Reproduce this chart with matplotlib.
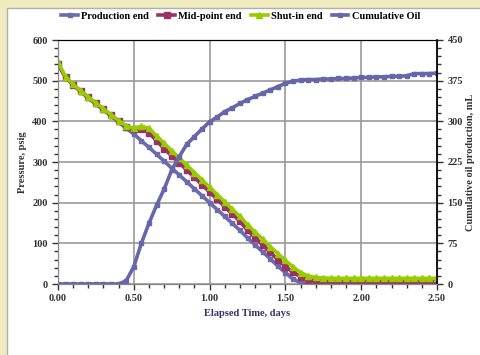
import matplotlib
matplotlib.use("Agg")
import matplotlib.pyplot as plt
from matplotlib.patches import Rectangle
from matplotlib.ticker import MultipleLocator, FormatStrFormatter

# elapsed time, days
time_days = [0.00, 0.05, 0.10, 0.15, 0.20, 0.25, 0.30, 0.35, 0.40, 0.45,
             0.50, 0.55, 0.60, 0.65, 0.70, 0.75, 0.80, 0.85, 0.90, 0.95,
             1.00, 1.05, 1.10, 1.15, 1.20, 1.25, 1.30, 1.35, 1.40, 1.45,
             1.50, 1.55, 1.60, 1.65, 1.70, 1.75, 1.80, 1.85, 1.90, 1.95,
             2.00, 2.05, 2.10, 2.15, 2.20, 2.25, 2.30, 2.35, 2.40, 2.45,
             2.50]

# pressure, psig
production_end = [542, 508, 489, 473, 457, 442, 428, 413, 398, 383,
                  369, 352, 336, 319, 302, 285, 268, 251, 234, 217,
                  200, 183, 166, 149, 132, 113, 96, 79, 62, 44,
                  28, 12, 3, 1, 0, 0, 0, 0, 0, 0,
                  0, 0, 0, 0, 0, 0, 0, 0, 0, 0,
                  0]
mid_point_end = [540, 508, 490, 474, 459, 444, 430, 415, 400, 387,
                 380, 381, 372, 352, 333, 315, 298, 280, 262, 244,
                 226, 208, 190, 172, 154, 132, 114, 96, 78, 60,
                 43, 29, 18, 11, 8, 7, 6, 6, 6, 6,
                 6, 6, 6, 6, 6, 6, 6, 6, 6, 6,
                 6]
shut_in_end = [545, 510, 491, 475, 460, 445, 431, 416, 402, 389,
               383, 388, 383, 364, 346, 328, 310, 292, 274, 256,
               238, 220, 202, 184, 166, 146, 128, 110, 92, 75,
               58, 42, 28, 20, 16, 15, 14, 14, 14, 14,
               14, 14, 14, 14, 14, 14, 14, 14, 14, 14,
               14]

# cumulative oil production, mL
cumulative_oil = [0, 0, 0, 0, 0, 0, 0, 0, 0, 6,
                  32, 75, 112, 145, 175, 210, 235, 258, 272, 286,
                  299, 308, 318, 325, 333, 340, 346, 352, 358, 364,
                  370, 374, 376, 377, 377, 378, 378, 379, 379, 380,
                  381, 381, 382, 382, 383, 383, 384, 388, 388, 388,
                  389]

plt.rcParams["font.family"] = ["Liberation Serif", "DejaVu Serif"]
plt.rcParams["font.weight"] = "bold"
plt.rcParams["axes.labelweight"] = "bold"

fig = plt.figure(figsize=(4.81, 3.55), dpi=100)
fig.patch.set_facecolor("#efebbf")
fig.patches.append(Rectangle((7 / 481, -0.01), 1, 1 - 8 / 355 + 0.01, transform=fig.transFigure,
                             facecolor="white", edgecolor="#b0b0b0", lw=1, zorder=-5))

ax = fig.add_axes([58 / 481, 1 - 284 / 355, (437 - 58) / 481, (284 - 40) / 355])
ax2 = ax.twinx()

p1, = ax.plot(time_days, production_end, color="#6b6bae", lw=2.6, marker="s", ms=2.5,
              label="Production end")
p2, = ax.plot(time_days, mid_point_end, color="#993366", lw=2.6, marker="s", ms=3.8,
              label="Mid-point end")
p3, = ax.plot(time_days, shut_in_end, color="#99cc00", lw=2.6, marker="^", ms=4,
              label="Shut-in end")
p4, = ax2.plot(time_days, cumulative_oil, color="#6666a8", lw=2.6, marker="s", ms=2.5,
               label="Cumulative Oil")

ax.set_xlim(0, 2.5)
ax.set_ylim(0, 600)
ax2.set_ylim(0, 450)
ax.xaxis.set_major_locator(MultipleLocator(0.5))
ax.xaxis.set_minor_locator(MultipleLocator(0.1))
ax.xaxis.set_major_formatter(FormatStrFormatter("%.2f"))
ax.yaxis.set_major_locator(MultipleLocator(100))
ax.yaxis.set_minor_locator(MultipleLocator(20))
ax2.yaxis.set_major_locator(MultipleLocator(75))
ax2.yaxis.set_minor_locator(MultipleLocator(15))

ax2.grid(False)
ax.grid(True, which="major", color="#999999", lw=1.2)
ax.set_axisbelow(True)
for a in (ax, ax2):
    a.tick_params(which="both", labelsize=7.5, colors="#333333", width=1)
    a.tick_params(which="major", length=4)
    a.tick_params(which="minor", length=3)
    for s in a.spines.values():
        s.set_color("#888888")
ax.spines["top"].set_color("black")
ax2.spines["top"].set_color("black")
ax2.spines["right"].set_color("black")
ax2.spines["right"].set_linewidth(1.2)

ax.set_xlabel("Elapsed Time, days", fontsize=7.5, color="#333366")
ax.set_ylabel("Pressure, psig", fontsize=7.5, color="#333333")
ax2.set_ylabel("Cumulative oil production, mL", fontsize=7.5, color="#333333", labelpad=2)

fig.legend(handles=[p1, p2, p3, p4], loc="center", bbox_to_anchor=(0.5, 1 - 16 / 355),
           ncol=4, frameon=False, fontsize=7.5, handlelength=1.6, columnspacing=0.9,
           handletextpad=0.3)

fig.savefig("out.png", dpi=100, facecolor=fig.get_facecolor())
